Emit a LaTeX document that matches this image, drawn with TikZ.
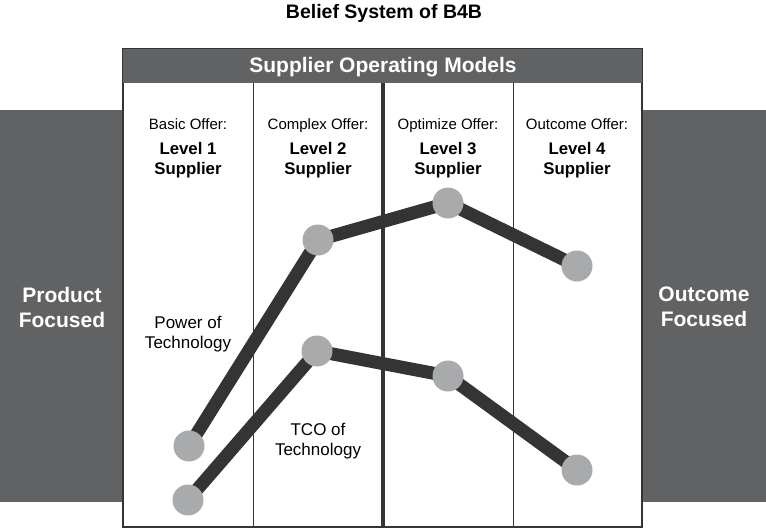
\documentclass[tikz,border=0pt]{standalone}
\usepackage{fontspec}
\setmainfont{Liberation Sans}
\usetikzlibrary{positioning}
\definecolor{panelgray}{HTML}{616264}
\definecolor{linedark}{HTML}{353435}
\definecolor{dotgray}{HTML}{A9AAAC}

\begin{document}
\begin{tikzpicture}[
  x=1pt,y=-1pt,
  offer/.style={font=\fontsize{15}{17}\selectfont, text height=11pt, text depth=3pt},
  level/.style={font=\bfseries\fontsize{16.8}{20}\selectfont, align=center},
  side/.style={text=white, font=\bfseries\fontsize{21}{25}\selectfont, align=center},
  caption/.style={font=\fontsize{17}{20}\selectfont, align=center},
  trend/.style={line width=13pt, draw=linedark},
  dot/.style={circle, fill=dotgray, minimum size=31pt, inner sep=0pt}
]
\useasboundingbox (0,0) rectangle (766,528);

% side panels
\fill[panelgray] (0,110) rectangle (123,502);
\fill[panelgray] (642,110) rectangle (766,502);
\node[side] (product) at (62,307) {Product\\Focused};
\node[side] (outcome) at (704,307) {Outcome\\Focused};

% main frame and header
\draw[line width=1.2pt, draw=linedark, fill=white] (123,49) rectangle (642,527);
\fill[panelgray] (123,49) rectangle (642,83);
\node[text=white, font=\bfseries\fontsize{21}{24}\selectfont] (models) at (383,67) {Supplier Operating Models};
\node[font=\bfseries\fontsize{19.5}{22}\selectfont] (title) at (384,13) {Belief System of B4B};

% column dividers
\draw[line width=1pt, linedark] (253,83) -- (253,527);
\draw[line width=1pt, linedark] (513,83) -- (513,527);
\draw[line width=4pt, linedark] (383,83) -- (383,527);

% column headings
\foreach \x/\offer/\n in {188/Basic/1, 318/Complex/2, 448/Optimize/3, 577/Outcome/4} {
  \node[offer] (offer\n) at (\x,125) {\offer{} Offer:};
  \node[level, below=3pt of offer\n] (level\n) {Level \n\\Supplier};
}

% trend lines
\coordinate (pw1) at (189,446);
\coordinate (pw2) at (318,240);
\coordinate (pw3) at (448,203);
\coordinate (pw4) at (577,266);
\coordinate (tc1) at (188,500);
\coordinate (tc2) at (317,351);
\coordinate (tc3) at (448,376);
\coordinate (tc4) at (577,470);

\draw[trend] (pw1) -- (pw2) -- (pw3) -- (pw4);
\draw[trend] (tc1) -- (tc2) -- (tc3) -- (tc4);

\foreach \p in {pw1,pw2,pw3,pw4,tc1,tc2,tc3,tc4}
  \node[dot] (dot-\p) at (\p) {};

\node[caption] (power) at (188,334) {Power of\\Technology};
\node[caption] (tco) at (318,441) {TCO of\\Technology};

\end{tikzpicture}
\end{document}
